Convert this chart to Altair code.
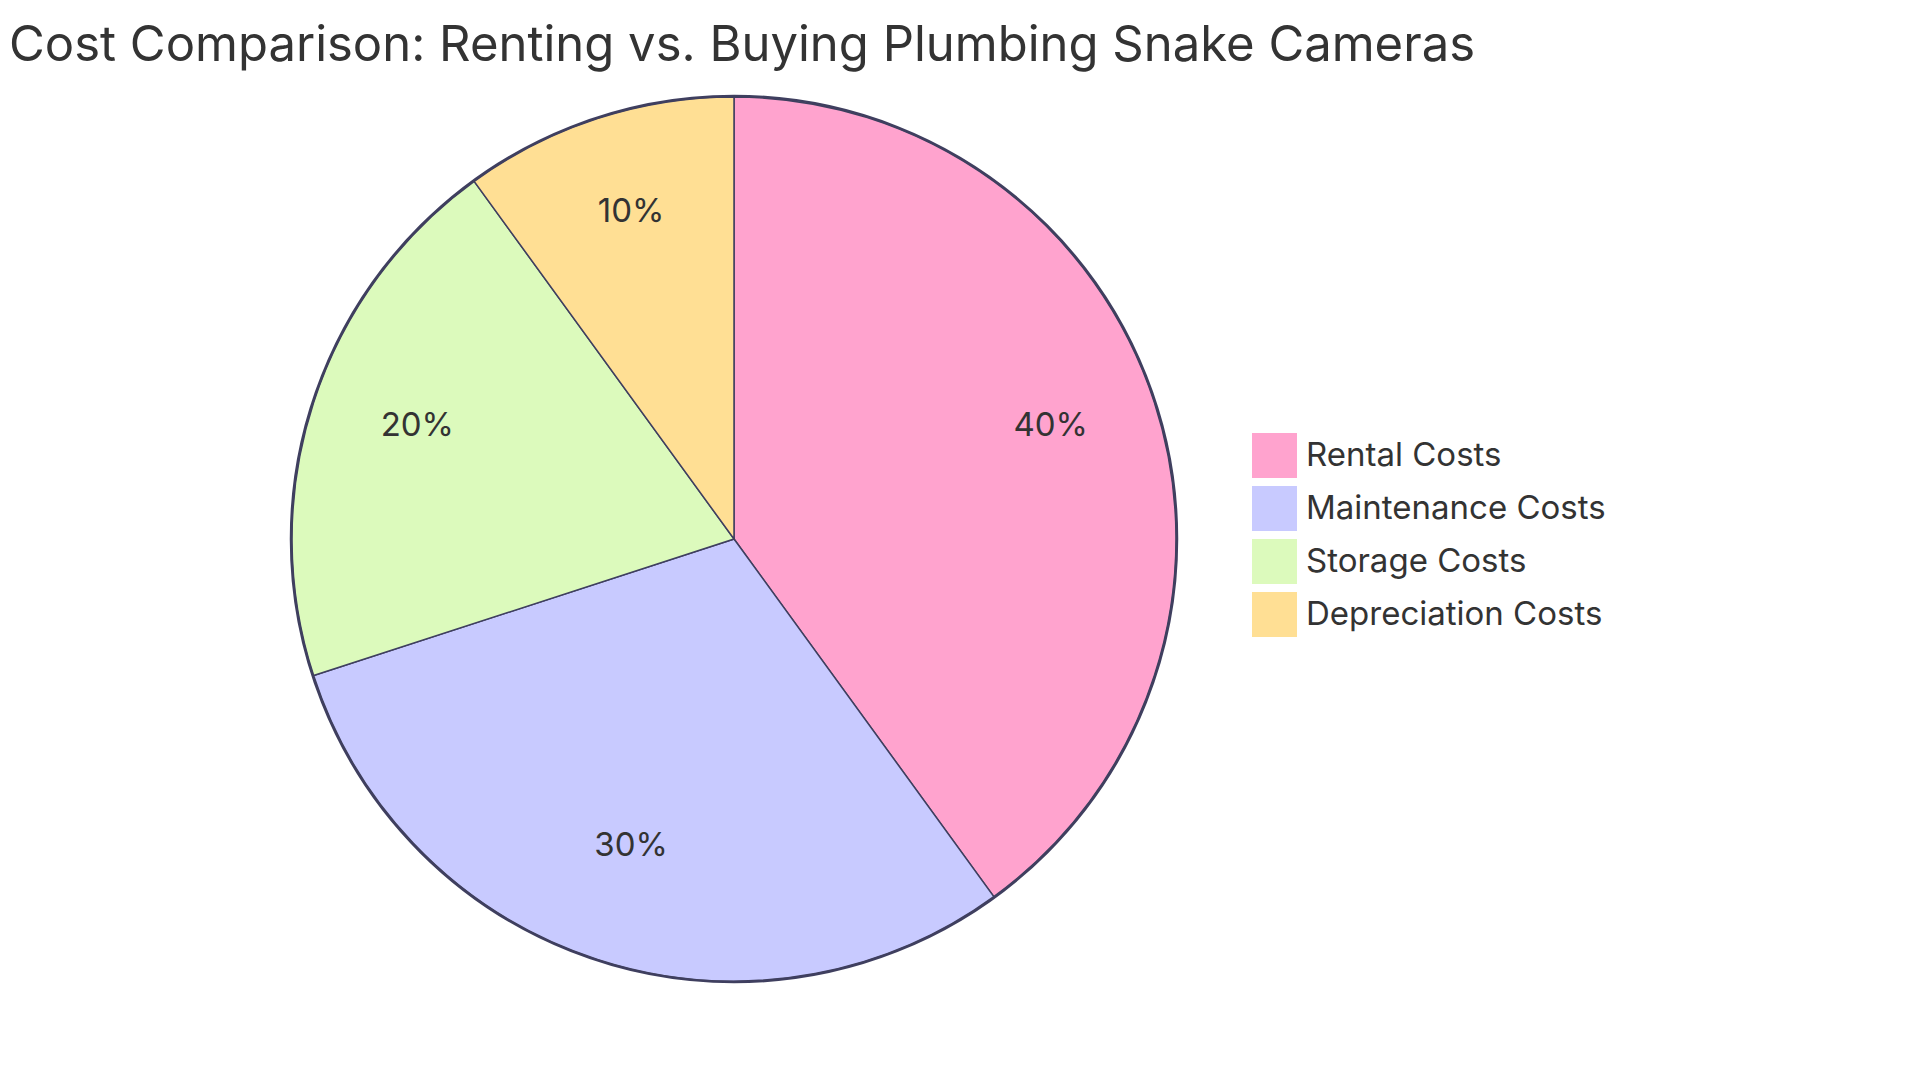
import altair as alt
import pandas as pd

categories = ["Rental Costs", "Maintenance Costs", "Storage Costs", "Depreciation Costs"]
values = [40, 30, 20, 10]
colors = ["#FFA3CE", "#C8CAFF", "#DCFABC", "#FFDF94"]
title_text = "Cost Comparison: Renting vs. Buying Plumbing Snake Cameras"

df = pd.DataFrame({
    "category": categories,
    "value": values,
    "order": list(range(len(categories))),
    "label": [f"{v}%" for v in values],
})

FONT = "Inter"
TEXT = "#333333"
STROKE = "#3F3F5F"

W, H = 1452, 922
PAD_L, PAD_T = 0, 70

base = alt.Chart(df).encode(
    theta=alt.Theta("value:Q", stack=True),
    order=alt.Order("order:Q"),
)

pie = base.mark_arc(radius=442, stroke=STROKE, strokeWidth=1.5).encode(
    color=alt.Color(
        "category:N",
        scale=alt.Scale(domain=categories, range=colors),
        legend=alt.Legend(
            title=None,
            orient="none",
            legendX=1252 - 8 - PAD_L,
            legendY=433 - 8 - PAD_T,
            symbolType="square",
            symbolSize=2025,
            symbolStrokeWidth=0,
            symbolOpacity=1,
            labelFont=FONT,
            labelFontSize=33,
            labelColor=TEXT,
            labelOffset=9,
            rowPadding=8,
            padding=0,
            labelLimit=0,
        ),
    )
)

labels = base.mark_text(
    radius=333, font=FONT, fontSize=33, color=TEXT, baseline="alphabetic", align="center"
).encode(text="label:N")

ring_df = pd.DataFrame({"k": [0]})
ring = alt.Chart(ring_df).mark_arc(
    radius=443, filled=False, stroke=STROKE, strokeWidth=2.5
).encode(theta=alt.value(0), theta2=alt.value(6.2832))

title_df = pd.DataFrame({"t": [title_text]})
title = alt.Chart(title_df).mark_text(
    font=FONT, fontSize=49, color=TEXT, align="center", baseline="alphabetic"
).encode(text="t:N", x=alt.value(W / 2 + 8), y=alt.value(61 - 8 - PAD_T))

chart = (
    alt.layer(pie, ring, labels, title)
    .properties(
        width=W,
        height=H,
        padding={"left": PAD_L, "top": PAD_T, "right": 420, "bottom": 10},
        autosize=alt.AutoSizeParams(type="none"),
    )
    .configure_view(stroke=None)
)

chart.save("out.html", embed_options={"renderer": "svg", "actions": False})
